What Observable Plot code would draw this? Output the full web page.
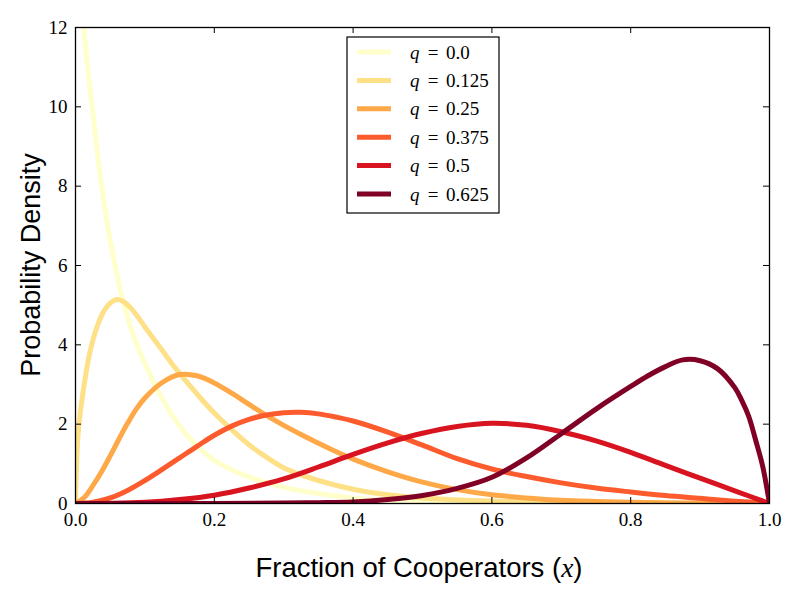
<!DOCTYPE html>
<html>
<head>
<meta charset="utf-8">
<script src="https://cdn.jsdelivr.net/npm/d3@7"></script>
<script src="https://cdn.jsdelivr.net/npm/@observablehq/plot@0.6"></script>
<style>
  html, body { margin: 0; padding: 0; background: #fff; }
  #chart { width: 800px; height: 600px; }
</style>
</head>
<body>
<div id="chart"></div>
<script>
// ---- data ----
const qLabels = ["0.0", "0.125", "0.25", "0.375", "0.5", "0.625"];
const colors  = ["#ffffcc", "#fee087", "#fea848", "#fc5b2e", "#d7141f", "#800026"];
const xTicks = [0, 0.2, 0.4, 0.6, 0.8, 1.0];
const yTicks = [0, 2, 4, 6, 8, 10, 12];

const q0 = [[0.006,14.4],[0.012,12],[0.024,10],[0.037,8.1],[0.05,6.65],[0.065,5.35],[0.08,4.42],[0.1,3.52],[0.12,2.8],[0.14,2.2],[0.16,1.73],[0.18,1.37],[0.2,1.09],[0.25,0.67],[0.3,0.41],[0.35,0.25],[0.4,0.14],[0.45,0.08],[0.5,0.045],[0.6,0.015],[0.7,0.005],[0.8,0.001],[1,0]];
const q125 = [[0,0],[0.0025,1.4],[0.005,2.0],[0.01,2.7],[0.02,3.75],[0.03,4.4],[0.04,4.82],[0.05,5.05],[0.06,5.14],[0.07,5.08],[0.08,4.92],[0.09,4.7],[0.1,4.45],[0.12,3.98],[0.14,3.5],[0.16,3.07],[0.18,2.66],[0.2,2.28],[0.225,1.86],[0.25,1.48],[0.275,1.17],[0.3,0.9],[0.325,0.72],[0.35,0.58],[0.4,0.36],[0.45,0.22],[0.5,0.14],[0.6,0.06],[0.7,0.025],[0.8,0.01],[0.9,0.003],[1,0]];
const q250 = [[0,0],[0.0125,0.15],[0.025,0.45],[0.0375,0.8],[0.05,1.2],[0.0625,1.62],[0.075,2.02],[0.0875,2.38],[0.1,2.66],[0.125,3.05],[0.15,3.25],[0.175,3.22],[0.2,3.04],[0.225,2.78],[0.25,2.5],[0.275,2.22],[0.3,1.97],[0.325,1.74],[0.35,1.52],[0.375,1.31],[0.4,1.12],[0.45,0.8],[0.5,0.54],[0.55,0.35],[0.6,0.22],[0.65,0.14],[0.7,0.08],[0.75,0.05],[0.8,0.03],[0.9,0.01],[1,0]];
const q375 = [[0,0],[0.025,0.03],[0.05,0.14],[0.075,0.33],[0.1,0.58],[0.125,0.86],[0.15,1.15],[0.175,1.44],[0.2,1.72],[0.225,1.95],[0.25,2.12],[0.275,2.23],[0.3,2.29],[0.325,2.3],[0.35,2.26],[0.375,2.18],[0.4,2.08],[0.45,1.8],[0.5,1.47],[0.55,1.13],[0.6,0.87],[0.65,0.68],[0.7,0.52],[0.75,0.39],[0.8,0.29],[0.85,0.2],[0.9,0.13],[0.95,0.06],[1,0]];
const q500 = [[0,0],[0.05,0.005],[0.1,0.03],[0.15,0.1],[0.2,0.21],[0.25,0.39],[0.3,0.62],[0.35,0.92],[0.4,1.24],[0.45,1.53],[0.5,1.77],[0.55,1.94],[0.6,2.02],[0.65,1.97],[0.7,1.81],[0.75,1.58],[0.8,1.29],[0.85,0.96],[0.9,0.64],[0.95,0.32],[1,0]];
const q625 = [[0,0],[0.2,0.001],[0.3,0.01],[0.35,0.02],[0.4,0.04],[0.45,0.1],[0.5,0.2],[0.55,0.38],[0.6,0.66],[0.65,1.15],[0.7,1.76],[0.75,2.38],[0.8,2.95],[0.825,3.22],[0.85,3.45],[0.875,3.62],[0.9,3.6],[0.925,3.4],[0.95,2.92],[0.96,2.6],[0.97,2.2],[0.98,1.6],[0.99,0.95],[1,0]];

const series = [q0, q125, q250, q375, q500, q625];
const rows = series.flatMap((pts, i) => pts.map(([x, y]) => ({x, y, q: qLabels[i]})));

// ---- layout ----
const W = 800, H = 600;
const mL = 75, mR = 31, mT = 27, mB = 97;
const fw = W - mL - mR, fh = H - mT - mB;
const tick = 6;
const serif = "'Liberation Serif', 'DejaVu Serif', serif";
const sans = "'Liberation Sans', Arial, sans-serif";

const plot = Plot.plot({
  width: W, height: H,
  marginLeft: mL, marginRight: mR, marginTop: mT, marginBottom: mB,
  x: {domain: [0, 1]},
  y: {domain: [0, 12]},
  color: {domain: qLabels, range: colors},
  style: {fontFamily: serif, fontSize: "19px", color: "#000", background: "#fff", overflow: "visible"},
  marks: [
    Plot.line(rows, {x: "x", y: "y", z: "q", stroke: "q", strokeWidth: 5, curve: "catmull-rom", clip: true, strokeLinejoin: "round"}),
    // inward ticks on all four sides
    Plot.tickX(xTicks, {x: d => d, insetTop: fh - tick, stroke: "#000", strokeWidth: 1}),
    Plot.tickX(xTicks, {x: d => d, insetBottom: fh - tick, stroke: "#000", strokeWidth: 1}),
    Plot.tickY(yTicks, {y: d => d, insetRight: fw - tick, stroke: "#000", strokeWidth: 1}),
    Plot.tickY(yTicks, {y: d => d, insetLeft: fw - tick, stroke: "#000", strokeWidth: 1}),
    Plot.axisX(xTicks, {anchor: "bottom", tickSize: 0, tickPadding: 9, tickFormat: d => d.toFixed(1), label: null, fontSize: 19}),
    Plot.axisY(yTicks, {anchor: "left", tickSize: 0, tickPadding: 8, tickFormat: d => String(d), label: null, fontSize: 19}),
    Plot.frame({stroke: "#000", strokeWidth: 1.3})
  ]
});

document.getElementById("chart").appendChild(plot);

// ---- axis titles and legend ----
const svg = d3.select(plot);

svg.append("text")
  .attr("transform", `translate(40,${mT + fh / 2}) rotate(-90)`)
  .attr("text-anchor", "middle")
  .style("font-family", sans).style("font-size", "27px").attr("fill", "#000")
  .text("Probability Density");

const xl = svg.append("text")
  .attr("x", mL + fw / 2 - 3).attr("y", 577)
  .attr("text-anchor", "middle")
  .style("font-family", sans).style("font-size", "27.5px").attr("fill", "#000");
xl.append("tspan").text("Fraction of Cooperators (");
xl.append("tspan").style("font-family", serif).style("font-style", "italic").text("x");
xl.append("tspan").text(")");

const lg = svg.append("g");
lg.append("rect")
  .attr("x", 347).attr("y", 37).attr("width", 152).attr("height", 176)
  .attr("fill", "#fff").attr("stroke", "#000").attr("stroke-width", 1.2);
qLabels.forEach((lab, i) => {
  const cy = 52 + i * 28.4;
  lg.append("line")
    .attr("x1", 357).attr("x2", 391).attr("y1", cy).attr("y2", cy)
    .attr("stroke", colors[i]).attr("stroke-width", 5);
  const base = (x, anchor) => lg.append("text")
    .attr("x", x).attr("y", cy).attr("dy", "0.35em")
    .attr("text-anchor", anchor)
    .style("font-family", serif).style("font-size", "19px").attr("fill", "#000");
  base(410, "start").style("font-style", "italic").text("q");
  base(433, "middle").text("=");
  base(446, "start").text(lab);
});
</script>
</body>
</html>
